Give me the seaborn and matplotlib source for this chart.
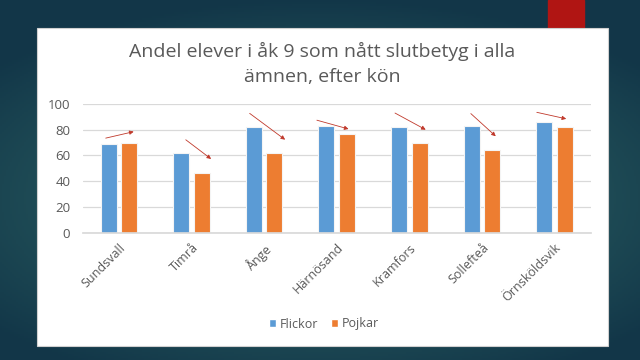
import numpy as np
import pandas as pd
import matplotlib
matplotlib.use("Agg")
import matplotlib.pyplot as plt
import seaborn as sns
from matplotlib.patches import Rectangle, Patch

kommuner = ["Sundsvall", "Timrå", "Ånge", "Härnösand", "Kramfors", "Sollefteå", "Örnsköldsvik"]
flickor = [69, 62, 82, 83, 82, 83, 86]
pojkar = [70, 46, 62, 77, 70, 64, 82]

# hand-drawn red arrows (offset from category centre, value)
pil_x0 = [-0.22, -0.11, -0.23, -0.31, -0.23, -0.18, -0.28]
pil_y0 = [73, 73.5, 94, 88, 94, 94, 94]
pil_x1 = [0.24, 0.30, 0.32, 0.20, 0.26, 0.22, 0.20]
pil_y1 = [79, 56, 71, 80, 79, 73.5, 88]

df = pd.DataFrame({"kommun": kommuner * 2,
                   "kön": ["Flickor"] * 7 + ["Pojkar"] * 7,
                   "andel": flickor + pojkar})
farger = {"Flickor": "#5B9BD5", "Pojkar": "#ED7D31"}

sns.set_theme(style="white")
plt.rcParams["font.family"] = ["Open Sans", "DejaVu Sans"]
grey = "#595959"

fig = plt.figure(figsize=(6.4, 3.6), dpi=100)

# slide background
bg = fig.add_axes([0, 0, 1, 1], zorder=-10)
yy, xx = np.mgrid[0:1:180j, 0:1:320j]
r = np.sqrt(((xx - 0.5) / 1.1) ** 2 + ((yy - 0.45) / 0.9) ** 2)
c0 = np.array([0x2e, 0x66, 0x66]) / 255
c1 = np.array([0x12, 0x36, 0x48]) / 255
t = np.clip(r / 0.62, 0, 1)[..., None] ** 1.3
bg.imshow(c0 * (1 - t) + c1 * t, aspect="auto", extent=[0, 1, 0, 1], origin="lower")
bg.axis("off")

fig.patches.append(Rectangle((548 / 640, 1 - 28 / 360), 36 / 640, 28 / 360,
                             transform=fig.transFigure, color="#B01513", zorder=-5))
fig.patches.append(Rectangle((37 / 640, 1 - 346 / 360), 571 / 640, 318 / 360,
                             transform=fig.transFigure, facecolor="white",
                             edgecolor="#d0d0d0", lw=0.8, zorder=-5))

ax = fig.add_axes([82.7 / 640, 1 - 232.7 / 360, 508 / 640, 128.7 / 360])
sns.barplot(data=df, x="kommun", y="andel", hue="kön", ax=ax, palette=farger,
            saturation=1, width=0.565, gap=0.22, edgecolor="#f4f4f4", linewidth=0.8,
            legend=False)

for i in range(len(kommuner)):
    ax.annotate("", xy=(i + pil_x1[i], pil_y1[i]), xytext=(i + pil_x0[i], pil_y0[i]),
                arrowprops=dict(arrowstyle="-|>", color="#C0392B", lw=0.6,
                                mutation_scale=6), zorder=5)

ax.set_ylim(0, 100)
ax.set_xlim(-0.5, 6.5)
ax.set_yticks(range(0, 101, 20))
ax.grid(axis="y", color="#d9d9d9", lw=0.9)
ax.set_axisbelow(True)
for s in ["left", "right", "top"]:
    ax.spines[s].set_visible(False)
ax.spines["bottom"].set_color("#d9d9d9")
ax.tick_params(axis="both", length=0, colors=grey)
ax.tick_params(axis="y", pad=9, labelsize=9.5)
ax.tick_params(axis="x", pad=6, labelsize=9)
plt.setp(ax.get_xticklabels(), rotation=45, ha="right", rotation_mode="anchor")
ax.set_xlabel("")
ax.set_ylabel("")
ax.set_facecolor("none")

handles = [Patch(facecolor=farger[k], label=k) for k in farger]
ax.legend(handles=handles, loc="center", bbox_to_anchor=(324 / 640, 1 - 324 / 360),
          bbox_transform=fig.transFigure, ncol=2, frameon=False, fontsize=9,
          handlelength=0.6, handleheight=0.6, handletextpad=0.3, columnspacing=1.0,
          labelcolor=grey)

fig.text(322.5 / 640, 1 - 64 / 360, "Andel elever i åk 9 som nått slutbetyg i alla\nämnen, efter kön",
         ha="center", va="center", fontsize=14, color=grey, linespacing=1.5)

fig.savefig("out.png", dpi=100)
